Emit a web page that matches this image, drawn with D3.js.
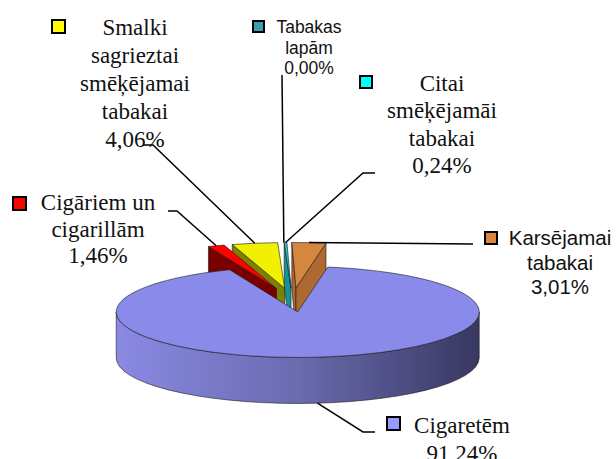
<!DOCTYPE html>
<html>
<head>
<meta charset="utf-8">
<script src="https://cdn.jsdelivr.net/npm/d3@7"></script>
<style>
  body { margin: 0; background: #fff; }
</style>
</head>
<body>
<div id="chart-area"></div>
<script>
// data (percent of total)
const categories = ["Karsējamai tabakai", "Cigaretēm", "Cigāriem un cigarillām",
                    "Smalki sagrieztai smēķējamai tabakai", "Tabakas lapām", "Citai smēķējamāi tabakai"]
const shares = [3.01, 91.24, 1.46, 4.06, 0.00, 0.24]
const labelLines = [
    ["Karsējamai", "tabakai", "3,01%"],
    ["Cigaretēm", "91,24%"],
    ["Cigāriem un", "cigarillām", "1,46%"],
    ["Smalki", "sagrieztai", "smēķējamai", "tabakai", "4,06%"],
    ["Tabakas", "lapām", "0,00%"],
    ["Citai", "smēķējamāi", "tabakai", "0,24%"]
]

// styles
const topColors  = ["#D5863F", "#8A8AEA", "#FF0000", "#F0F000", "#3F9BAE", "#2EC8C8"]
const sideColors = ["#AD6931", "#5A5AA0", "#7A0000", "#808000", "#2A6F7E", "#149494"]
const keyColors  = ["#D9843F", "#9999FF", "#FF0000", "#FFFF00", "#3F9BAE", "#00FFFF"]

const SERIF = "'Liberation Serif', 'DejaVu Serif', serif"
const SANS = "'Liberation Sans', Arial, sans-serif"

// where each label sits (centre x, first baseline, line height, font size, family, legend key, leader bends)
const labelLayout = [
    { cx: 560, y0: 245, lh: 24.5, fs: 20.5, font: SANS,  key: [485, 232, 12], leader: [[473, 244]] },
    { cx: 462, y0: 433, lh: 27.5, fs: 23,   font: SERIF, key: [387, 417, 13], leader: [[363, 432], [375, 432]] },
    { cx: 98,  y0: 210, lh: 26.5, fs: 23,   font: SERIF, key: [13, 197, 13],  leader: [[177, 211], [168, 211]] },
    { cx: 135, y0: 35,  lh: 28,   fs: 23,   font: SERIF, key: [52, 20, 13],   leader: [[153, 145], [143, 145]] },
    { cx: 309, y0: 33,  lh: 20.5, fs: 17.5, font: SANS,  key: [253, 21, 11],  leader: [[282, 75]] },
    { cx: 442, y0: 91,  lh: 27.4, fs: 23,   font: SERIF, key: [360, 76, 12],  leader: [[363, 173], [375, 173]] }
]

const W = 616, H = 459
const CX = 292.5, CY = 300        // true pie centre
const RX = 181.5, RY = 45.5, DEPTH = 46
const EXPLODE = 48
const ROTATION = -1.3 * Math.PI / 180   // first slice starts just left of 12 o'clock

const svg = d3.select("#chart-area").append("svg")
    .attr("width", W).attr("height", H)

const defs = svg.append("defs")
const grad = defs.append("linearGradient")
    .attr("id", "wallGrad")
    .attr("gradientUnits", "userSpaceOnUse")
    .attr("x1", CX + 4 - RX).attr("x2", CX + 4 + RX).attr("y1", 0).attr("y2", 0)
grad.append("stop").attr("offset", 0).attr("stop-color", "#8A8AE4")
grad.append("stop").attr("offset", 0.5).attr("stop-color", "#6B6BB0")
grad.append("stop").attr("offset", 1).attr("stop-color", "#383862")

const pie = d3.pie().sort(null).value(d => d)
    .startAngle(ROTATION).endAngle(ROTATION + 2 * Math.PI)
const arcs = pie(shares).map((a, i) => {
    const mid = (a.startAngle + a.endAngle) / 2
    return {
        i, a0: a.startAngle, a1: a.endAngle, mid,
        cx: CX + EXPLODE * Math.sin(mid),
        cy: CY - EXPLODE * (RY / RX) * Math.cos(mid)
    }
})

const pt = (s, t, z = 0) => [s.cx + RX * Math.sin(t), s.cy - RY * Math.cos(t) + z]

function topPath(s) {
    const p0 = pt(s, s.a0), p1 = pt(s, s.a1)
    const large = s.a1 - s.a0 > Math.PI ? 1 : 0
    return `M${s.cx},${s.cy}L${p0}A${RX},${RY} 0 ${large} 1 ${p1}Z`
}
function facePath(s, t) {
    const r0 = pt(s, t), r1 = pt(s, t, DEPTH)
    return `M${s.cx},${s.cy}L${r0}L${r1}L${s.cx},${s.cy + DEPTH}Z`
}
function wallPath(s) {
    const a = Math.max(s.a0, Math.PI / 2), b = Math.min(s.a1, 3 * Math.PI / 2)
    if (b <= a) return null
    const t0 = pt(s, a), t1 = pt(s, b), b0 = pt(s, a, DEPTH), b1 = pt(s, b, DEPTH)
    return `M${t0}A${RX},${RY} 0 0 1 ${t1}L${b1}A${RX},${RY} 0 0 0 ${b0}Z`
}

// back slices first, the big front slice last
const order = arcs.filter(s => s.a1 > s.a0)
    .sort((p, q) => Math.cos(q.mid) - Math.cos(p.mid))

const gPie = svg.append("g")
    .attr("stroke", "#1a1a1a").attr("stroke-width", 0.6).attr("stroke-linejoin", "round")
order.forEach(s => {
    const g = gPie.append("g")
    if (Math.sin(s.a0) < 0) g.append("path").attr("d", facePath(s, s.a0)).attr("fill", sideColors[s.i])
    if (Math.sin(s.a1) > 0) g.append("path").attr("d", facePath(s, s.a1)).attr("fill", sideColors[s.i])
    const w = wallPath(s)
    if (w) g.append("path").attr("d", w)
        .attr("fill", s.i === 1 ? "url(#wallGrad)" : sideColors[s.i])
    g.append("path").attr("d", topPath(s)).attr("fill", topColors[s.i])
})

// leader lines
const line = d3.line()
arcs.forEach(s => {
    const L = labelLayout[s.i]
    const front = Math.cos(s.mid) < 0
    const anchor = front ? pt(s, s.mid, DEPTH) : pt(s, s.mid)
    svg.append("path")
        .attr("d", line([anchor, ...L.leader]))
        .attr("fill", "none").attr("stroke", "#000").attr("stroke-width", 1.5)
})

// labels with legend keys
categories.forEach((c, i) => {
    const L = labelLayout[i]
    svg.append("rect")
        .attr("x", L.key[0]).attr("y", L.key[1])
        .attr("width", L.key[2]).attr("height", L.key[2])
        .attr("fill", keyColors[i]).attr("stroke", "#000").attr("stroke-width", 2)
    const t = svg.append("text")
        .attr("font-family", L.font)
        .attr("font-size", L.fs + "px")
        .attr("fill", "#111")
        .attr("text-anchor", "middle")
    labelLines[i].forEach((ln, k) => {
        t.append("tspan").attr("x", L.cx).attr("y", L.y0 + k * L.lh).text(ln)
    })
})
</script>
</body>
</html>
